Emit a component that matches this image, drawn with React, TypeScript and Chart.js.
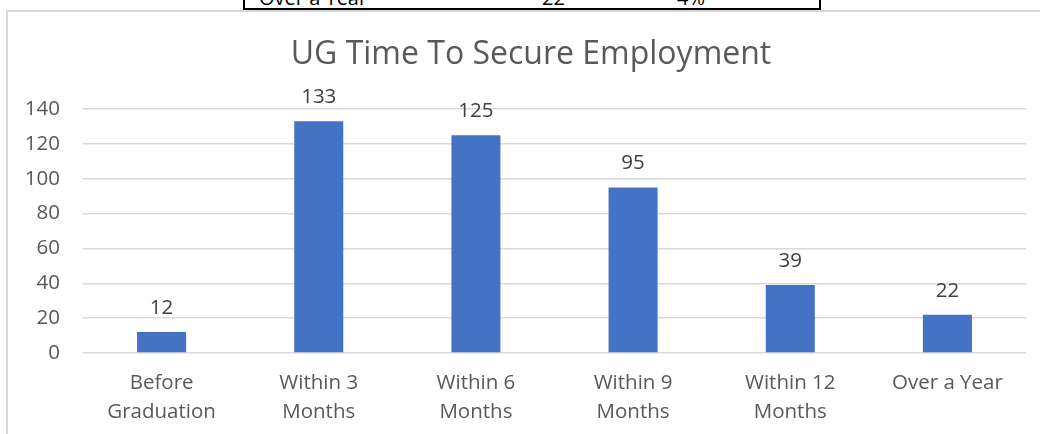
import React, { useEffect, useRef } from "react";
import { Chart, registerables } from "chart.js";

Chart.register(...registerables);

const categories: string[][] = [
  ["Before", "Graduation"],
  ["Within 3", "Months"],
  ["Within 6", "Months"],
  ["Within 9", "Months"],
  ["Within 12", "Months"],
  ["Over a Year"],
];
const values: number[] = [12, 133, 125, 95, 39, 22];
const yTicks: number[] = [0, 20, 40, 60, 80, 100, 120, 140];
const titleText = "UG Time To Secure Employment";
const tableRow: string[] = ["Over a Year", "22", "4%"];

const FONT = "'Open Sans', sans-serif";

const valueLabels = {
  id: "valueLabels",
  afterDatasetsDraw(chart: any) {
    const ctx = chart.ctx;
    const meta = chart.getDatasetMeta(0);
    ctx.save();
    ctx.font = `20.5px ${FONT}`;
    ctx.fillStyle = "#404040";
    ctx.textAlign = "center";
    ctx.textBaseline = "middle";
    meta.data.forEach((bar: any, i: number) => {
      ctx.fillText(String(chart.data.datasets[0].data[i]), bar.x, bar.y - 24);
    });
    ctx.restore();
  },
};

const frameTitle = {
  id: "frameTitle",
  afterDraw(chart: any) {
    const ctx = chart.ctx;
    ctx.save();
    ctx.font = `32px ${FONT}`;
    ctx.fillStyle = "#595959";
    ctx.textAlign = "center";
    ctx.textBaseline = "middle";
    ctx.fillText(titleText, 531, 55);
    ctx.restore();
  },
};

export default function App() {
  const ref = useRef<HTMLCanvasElement | null>(null);
  useEffect(() => {
    if (!ref.current) return;
    const chart = new Chart(ref.current, {
      type: "bar",
      data: {
        labels: categories as any,
        datasets: [
          {
            data: values,
            backgroundColor: "#4472C4",
            barPercentage: 0.312,
            categoryPercentage: 1,
          },
        ],
      },
      options: {
        responsive: false,
        animation: false,
        layout: { padding: { top: 109, right: 14, bottom: 0, left: 0 } },
        plugins: {
          legend: { display: false },
          tooltip: { enabled: false },
          title: { display: false },
        },
        scales: {
          x: {
            grid: { display: false, drawTicks: false },
            border: { display: false },
            ticks: {
              color: "#595959",
              font: { family: FONT, size: 20.5, lineHeight: 1.4 },
              padding: 16,
              maxRotation: 0,
              autoSkip: false,
            },
            afterFit: (s: any) => {
              s.height = 81;
            },
          },
          y: {
            min: 0,
            max: 140,
            afterBuildTicks: (s: any) => {
              s.ticks = yTicks.map((v) => ({ value: v }));
            },
            grid: { color: "#D9D9D9", lineWidth: 1.5, drawTicks: false },
            border: { display: false },
            ticks: {
              color: "#595959",
              font: { family: FONT, size: 20.5 },
              padding: 23,
            },
            afterFit: (s: any) => {
              s.width = 83;
            },
          },
        },
      },
      plugins: [valueLabels, frameTitle],
    });
    return () => chart.destroy();
  }, []);

  return (
    <div
      style={{
        position: "fixed",
        left: 0,
        top: 0,
        width: 1040,
        height: 434,
        overflow: "hidden",
        background: "#fff",
      }}
    >
      <div
        style={{
          position: "absolute",
          left: 6,
          top: 10,
          width: 1100,
          height: 500,
          border: "2px solid #D9D9D9",
          boxSizing: "border-box",
        }}
      />
      <canvas
        ref={ref}
        width={1040}
        height={434}
        style={{ position: "absolute", left: 0, top: 0, width: 1040, height: 434 }}
      />
      <div
        style={{
          position: "absolute",
          left: 243,
          top: -30,
          width: 578,
          height: 40,
          border: "2px solid #000",
          borderTop: "none",
          boxSizing: "border-box",
          background: "#fff",
          overflow: "hidden",
          fontFamily: "'Open Sans', sans-serif",
          fontSize: 20,
          color: "#000",
        }}
      >
        <span style={{ position: "absolute", left: 14, top: 18, lineHeight: "20px" }}>{tableRow[0]}</span>
        <span style={{ position: "absolute", left: 297, top: 18, lineHeight: "20px" }}>{tableRow[1]}</span>
        <span style={{ position: "absolute", left: 432, top: 18, lineHeight: "20px" }}>{tableRow[2]}</span>
      </div>
    </div>
  );
}
